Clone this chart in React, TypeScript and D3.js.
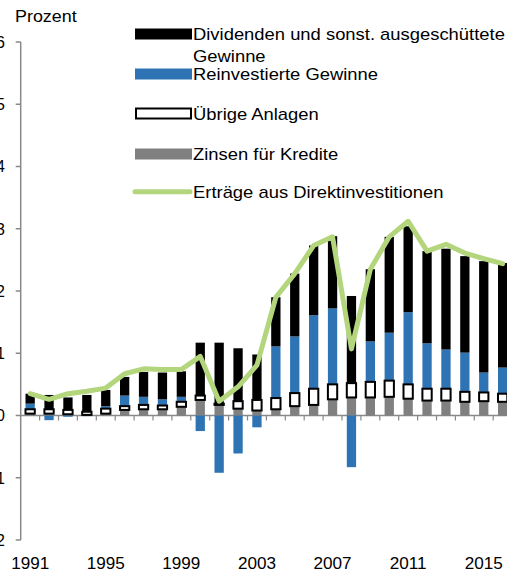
import React from "react";
import * as d3 from "d3";

// categories
const years = [
  "1991", "1992", "1993", "1994", "1995", "1996", "1997", "1998", "1999",
  "2000", "2001", "2002", "2003", "2004", "2005", "2006", "2007", "2008",
  "2009", "2010", "2011", "2012", "2013", "2014", "2015", "2016",
];

// series values (Prozent)
const zinsen = [
  0.03, 0.03, 0.02, 0.01, 0.03, 0.09, 0.1, 0.1, 0.14, 0.25, 0.17, 0.11, 0.08,
  0.1, 0.15, 0.17, 0.26, 0.29, 0.29, 0.3, 0.27, 0.24, 0.24, 0.22, 0.23, 0.22,
];
const uebrige = [
  0.07, 0.07, 0.07, 0.05, 0.08, 0.06, 0.07, 0.06, 0.08, 0.07, 0.02, 0.12, 0.17,
  0.18, 0.21, 0.26, 0.24, 0.23, 0.25, 0.26, 0.23, 0.19, 0.19, 0.16, 0.14, 0.13,
];
const reinvestiert = [
  0.09, -0.075, -0.02, -0.01, 0.04, 0.17, 0.13, 0.1, 0.08, -0.25, -0.92, -0.61,
  -0.19, 0.83, 0.91, 1.18, 1.22, -0.83, 0.65, 0.77, 1.16, 0.73, 0.63, 0.63,
  0.32, 0.42,
];
const dividenden = [
  0.16, 0.23, 0.2, 0.27, 0.26, 0.3, 0.4, 0.43, 0.41, 0.85, 0.98, 0.85, 0.73,
  0.79, 1.01, 1.12, 1.16, 1.4, 1.16, 1.54, 1.38, 1.48, 1.62, 1.55, 1.79, 1.68,
];
const ertraege = [
  0.35, 0.26, 0.35, 0.39, 0.44, 0.67, 0.75, 0.74, 0.74, 0.95, 0.23, 0.46, 0.81,
  1.9, 2.28, 2.73, 2.87, 1.07, 2.35, 2.87, 3.12, 2.64, 2.75, 2.61, 2.52, 2.44,
];

// tick labels
const yTicks = [-2, -1, 0, 1, 2, 3, 4, 5, 6];
const xTickLabels = ["1991", "1995", "1999", "2003", "2007", "2011", "2015"];

const width = 507;
const height = 573;
const axisX = 20.7; // y axis position
const step = 18.9; // category width
const axisColor = "#898989";
const blackColor = "#000000";
const blueColor = "#2e74b5";
const grayColor = "#808080";
const greenColor = "#b3d57c";
const font = "'Liberation Sans', Arial, sans-serif";

type Row = {
  year: string;
  zinsen: number;
  uebrige: number;
  reinvestiert: number;
  dividenden: number;
};

const rows: Row[] = years.map((year, i) => ({
  year,
  zinsen: zinsen[i],
  uebrige: uebrige[i],
  reinvestiert: reinvestiert[i],
  dividenden: dividenden[i],
}));

const keys = ["zinsen", "uebrige", "reinvestiert", "dividenden"] as const;

const App: React.FC = () => {
  const x = d3
    .scaleBand<string>()
    .domain(years)
    .range([axisX, axisX + step * years.length])
    .paddingInner(0.508)
    .paddingOuter(0.254);

  const y = d3.scaleLinear().domain([-2, 6]).range([540, 42]);

  const stacked = d3
    .stack<Row>()
    .keys(keys as unknown as string[])
    .offset(d3.stackOffsetDiverging)(rows);

  const seriesByKey: Record<string, d3.Series<Row, string>> = {};
  stacked.forEach((s) => (seriesByKey[s.key] = s));

  const center = (yr: string) => (x(yr) as number) + x.bandwidth() / 2;

  const line = d3
    .line<number>()
    .x((_d, i) => center(years[i]))
    .y((d) => y(d));

  const bars = (key: string, fill: string, stroke?: string) =>
    seriesByKey[key].map((d, i) => {
      const y0 = y(d[1]);
      const y1 = y(d[0]);
      if (Math.abs(y1 - y0) < 0.01) return null;
      return (
        <rect
          key={key + i}
          x={x(years[i])}
          y={y0}
          width={x.bandwidth()}
          height={y1 - y0}
          fill={fill}
          stroke={stroke || "none"}
          strokeWidth={stroke ? 2 : 0}
        />
      );
    });

  const zeroY = y(0);
  const axisEnd = axisX + step * years.length;

  // legend entries
  const legend = [
    { type: "rect", fill: blackColor, top: 28.5, lines: ["Dividenden und sonst. ausgeschüttete", "Gewinne"], base: [39.5, 62] },
    { type: "rect", fill: blueColor, top: 68.5, lines: ["Reinvestierte Gewinne"], base: [80] },
    { type: "box", fill: "#ffffff", top: 108.5, lines: ["Übrige Anlagen"], base: [120] },
    { type: "rect", fill: grayColor, top: 148.5, lines: ["Zinsen für Kredite"], base: [159.5] },
    { type: "line", fill: greenColor, top: 191.7, lines: ["Erträge aus Direktinvestitionen"], base: [198] },
  ];

  return (
    <svg
      width={width}
      height={height}
      style={{ position: "absolute", left: 0, top: 0, background: "#fff" }}
      fontFamily={font}
    >
      {/* unit label */}
      <text
        transform={`translate(15,22) scale(1.12,1)`}
        fontSize={16}
        fill="#000"
      >
        Prozent
      </text>

      {/* y axis */}
      <line x1={axisX} x2={axisX} y1={y(6)} y2={y(-2)} stroke={axisColor} strokeWidth={1.5} />
      {yTicks.map((t) => (
        <g key={"yt" + t}>
          <line x1={axisX - 5} x2={axisX} y1={y(t)} y2={y(t)} stroke={axisColor} strokeWidth={1.5} />
          <text x={5} y={y(t)} dy="0.36em" textAnchor="end" fontSize={16} fill="#000">
            {t < 0 ? "-" + Math.abs(t) : t}
          </text>
        </g>
      ))}

      {/* x axis */}
      <line x1={axisX} x2={axisEnd} y1={zeroY} y2={zeroY} stroke={axisColor} strokeWidth={1.5} />
      {years.map((yr, i) => {
        const bx = axisX + step * (i + 1);
        return (
          <line key={"xt" + yr} x1={bx} x2={bx} y1={zeroY} y2={zeroY + 5} stroke={axisColor} strokeWidth={1.2} />
        );
      })}
      {xTickLabels.map((lbl) => (
        <text
          key={"xl" + lbl}
          transform={`translate(${center(lbl)},569) scale(1.07,1)`}
          textAnchor="middle"
          fontSize={16}
          fill="#000"
        >
          {lbl}
        </text>
      ))}

      {/* stacked bars */}
      {bars("zinsen", grayColor)}
      {bars("reinvestiert", blueColor)}
      {bars("dividenden", blackColor)}
      {bars("uebrige", "#ffffff", "#000000")}

      {/* total line */}
      <path
        d={line(ertraege) || ""}
        fill="none"
        stroke={greenColor}
        strokeWidth={5}
        strokeLinejoin="round"
        strokeLinecap="round"
      />

      {/* legend */}
      {legend.map((item, i) => (
        <g key={"lg" + i}>
          {item.type === "rect" && (
            <rect x={135} y={item.top} width={57} height={11} fill={item.fill} />
          )}
          {item.type === "box" && (
            <rect x={136} y={item.top} width={55} height={10} fill="#fff" stroke="#000" strokeWidth={2} />
          )}
          {item.type === "line" && (
            <line x1={135} x2={190} y1={item.top} y2={item.top} stroke={item.fill} strokeWidth={5} strokeLinecap="round" />
          )}
          {item.lines.map((ln, j) => (
            <text
              key={j}
              transform={`translate(193,${item.base[j]}) scale(1.15,1)`}
              fontSize={16}
              fill="#000"
            >
              {ln}
            </text>
          ))}
        </g>
      ))}
    </svg>
  );
};

export default App;
